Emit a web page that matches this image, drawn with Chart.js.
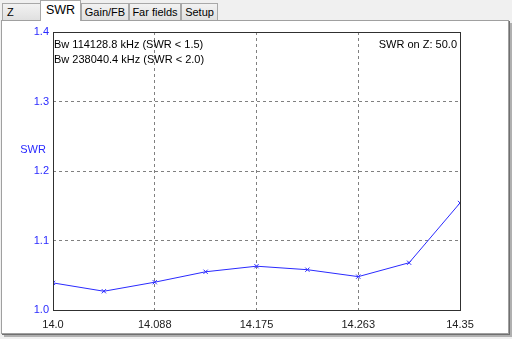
<!DOCTYPE html>
<html><head><meta charset="utf-8">
<script src="https://cdn.jsdelivr.net/npm/chart.js@4"></script>
<style>
html,body{margin:0;padding:0;width:512px;height:339px;overflow:hidden;background:#f0f0f0;font-family:"Liberation Sans",Arial,sans-serif;}
#panel{position:absolute;left:1px;top:20px;width:506px;height:312px;background:#fff;border:1px solid #a0a0a0;box-shadow:1px 1px 0 #707070,3px 3px 0 #b0b0b0;}
#c{position:absolute;left:0;top:0;width:512px;height:339px;}
.tab{position:absolute;top:3px;height:16px;background:linear-gradient(#f2f2f2,#e0e0e0);border:1px solid #a8a8a8;border-bottom:none;font-size:11px;line-height:17px;color:#000;}
.tab.sel{top:0;height:20px;background:#fff;font-size:12.5px;line-height:19px;z-index:2;}
</style></head><body>
<div id="panel"></div>
<canvas id="c" width="512" height="339"></canvas>
<div class="tab" style="left:2px;width:33px;padding-left:4px;">Z</div>
<div class="tab sel" style="left:40px;width:39px;text-align:center;">SWR</div>
<div class="tab" style="left:81px;width:46px;text-align:center;">Gain/FB</div>
<div class="tab" style="left:129px;width:50px;text-align:center;">Far fields</div>
<div class="tab" style="left:181px;width:35px;text-align:center;">Setup</div>
<script>
const freqs = [14.0, 14.04375, 14.0875, 14.13125, 14.175, 14.21875, 14.2625, 14.30625, 14.35];
const swr = [1.039, 1.027, 1.040, 1.055, 1.063, 1.058, 1.048, 1.068, 1.154];
const xTickValues = [14.0, 14.0875, 14.175, 14.2625, 14.35];
const xTickLabels = ["14.0", "14.088", "14.175", "14.263", "14.35"];
const yTickLabels = ["1.0", "1.1", "1.2", "1.3", "1.4"];
const yTitle = "SWR";
const leftNotes = ["Bw 114128.8 kHz (SWR < 1.5)", "Bw 238040.4 kHz (SWR < 2.0)"];
const rightNote = "SWR on Z: 50.0";

const FONT = '"Liberation Sans", Arial, sans-serif';
const overlay = {
  id: 'overlay',
  afterDraw(chart) {
    const ctx = chart.ctx, a = chart.chartArea;
    ctx.save();
    ctx.strokeStyle = '#303030';
    ctx.lineWidth = 1;
    ctx.strokeRect(Math.round(a.left) + 0.5, Math.round(a.top) + 0.5, Math.round(a.right - a.left), Math.round(a.bottom - a.top));
    ctx.font = '11px ' + FONT;
    ctx.fillStyle = '#000';
    ctx.textBaseline = 'middle';
    ctx.textAlign = 'left';
    leftNotes.forEach((t, i) => ctx.fillText(t, a.left + 1, a.top + 13 + i * 15));
    ctx.textAlign = 'right';
    ctx.fillText(rightNote, a.right - 3, a.top + 13);
    ctx.fillStyle = '#2a2aff';
    ctx.textAlign = 'center';
    ctx.fillText(yTitle, 33, 150);
    ctx.restore();
  }
};

new Chart(document.getElementById('c'), {
  type: 'line',
  data: {
    datasets: [{
      data: freqs.map((f, i) => ({x: f, y: swr[i]})),
      borderColor: '#2a2aff',
      borderWidth: 1,
      pointStyle: 'crossRot',
      pointRadius: 3,
      pointBorderColor: '#2a2aff',
      pointBorderWidth: 1,
      tension: 0,
      fill: false
    }]
  },
  options: {
    responsive: false,
    animation: false,
    events: [],
    layout: {padding: {left: 0, right: 52, top: 32, bottom: 0}},
    plugins: {legend: {display: false}, tooltip: {enabled: false}},
    scales: {
      x: {
        type: 'linear', min: 14.0, max: 14.35,
        afterBuildTicks(s) { s.ticks = xTickValues.map(v => ({value: v})); },
        afterFit(s) { s.height = 29; },
        ticks: {
          callback: (v, i) => xTickLabels[i],
          color: '#202020', font: {size: 11, family: FONT}, padding: 8, maxRotation: 0, autoSkip: false
        },
        grid: {color: '#808080', lineWidth: 1, drawTicks: false, tickLength: 0},
        border: {display: false, dash: [3, 3]}
      },
      y: {
        min: 1.0, max: 1.4,
        ticks: {
          stepSize: 0.1,
          callback: (v, i) => yTickLabels[i],
          color: '#2a2aff', font: {size: 11, family: FONT}, padding: 4
        },
        afterFit(s) { s.width = 53; },
        grid: {color: '#808080', lineWidth: 1, drawTicks: false, tickLength: 0},
        border: {display: false, dash: [3, 3]}
      }
    }
  },
  plugins: [overlay]
});
</script>
</body></html>
